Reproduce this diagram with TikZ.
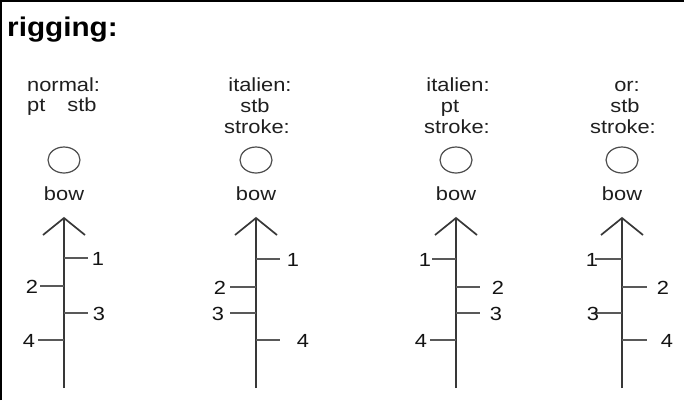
\documentclass[tikz,border=0pt]{standalone}
\usepackage{fontspec}
\setmainfont{Liberation Sans}[FakeStretch=1.15]
\newfontfamily\titlefont{Liberation Sans}[FakeStretch=1.1]
\usetikzlibrary{shapes.geometric}
\tikzset{
  txt/.style={inner sep=0pt, font=\fontsize{19}{21}\selectfont, text=black!88},
  num/.style={inner sep=0pt, font=\fontsize{19}{21}\selectfont, text=black!92},
  spine/.style={draw=black!78, line width=1.7pt},
  tickline/.style={draw=black!65, line width=1.3pt},
  bowcircle/.style={draw=black!70, line width=1.2pt, ellipse, minimum width=32pt, minimum height=26pt, inner sep=0pt},
  frame/.style={draw=black, line width=2.5pt}
}
\begin{document}
\begin{tikzpicture}[x=1pt,y=-1pt]
\useasboundingbox (0,0) rectangle (684,400);
\fill[white] (0,0) rectangle (684,400);
\coordinate (fbl) at (1,400);
\coordinate (ftl) at (1,1);
\coordinate (ftr) at (684,1);
\draw[frame] (fbl) -- (ftl) -- (ftr);
\node[inner sep=0pt, anchor=base west, font=\titlefont\bfseries\fontsize{27}{30}\selectfont] (title) at (7,36) {rigging:};
% headers
\node[txt, anchor=base west] (h1a) at (27,91) {normal:};
\node[txt, anchor=base west] (h1b) at (27,111) {pt\hspace{22pt}stb};
\node[txt, anchor=base] (h2a) at (260,91) {italien:};
\node[txt, anchor=base] (h2b) at (255,112) {stb};
\node[txt, anchor=base] (h2c) at (257,133) {stroke:};
\node[txt, anchor=base] (h3a) at (458,91) {italien:};
\node[txt, anchor=base] (h3b) at (450,112) {pt};
\node[txt, anchor=base] (h3c) at (457,133) {stroke:};
\node[txt, anchor=base] (h4a) at (627,91) {or:};
\node[txt, anchor=base] (h4b) at (625,112) {stb};
\node[txt, anchor=base] (h4c) at (623,133) {stroke:};
% spines
\foreach \cx/\c in {64/a,256/b,456/c,622/d} {
  \coordinate (\c-top) at (\cx,218);
  \coordinate (\c-bot) at (\cx,388);
  \coordinate (\c-wl) at (\cx-21,235);
  \coordinate (\c-wr) at (\cx+21,235);
  \draw[spine] (\c-bot) -- (\c-top);
  \draw[spine] (\c-wl) -- (\c-top) -- (\c-wr);
  \node[bowcircle] (\c-circ) at (\cx,160) {};
  \node[txt, anchor=base] (\c-bow) at (\cx,200) {bow};
}
% ticks
\foreach \c/\sx/\y/\ex/\lx/\n in {
  a/64/258/88/98/1, a/64/286/40/32/2, a/64/313/88/99/3, a/64/340/38/29/4,
  b/256/259/280/293/1, b/256/287/230/220/2, b/256/313/230/218/3, b/256/340/280/303/4,
  c/456/259/432/425/1, c/456/287/480/498/2, c/456/313/480/496/3, c/456/340/430/421/4,
  d/622/259/595/592/1, d/622/287/647/663/2, d/622/313/595/593/3, d/622/340/647/667/4} {
  \coordinate (\c-s\n) at (\sx,\y);
  \coordinate (\c-e\n) at (\ex,\y);
  \draw[tickline] (\c-s\n) -- (\c-e\n);
  \node[num] (\c-l\n) at (\lx,\y+1) {\n};
}
\end{tikzpicture}
\end{document}
